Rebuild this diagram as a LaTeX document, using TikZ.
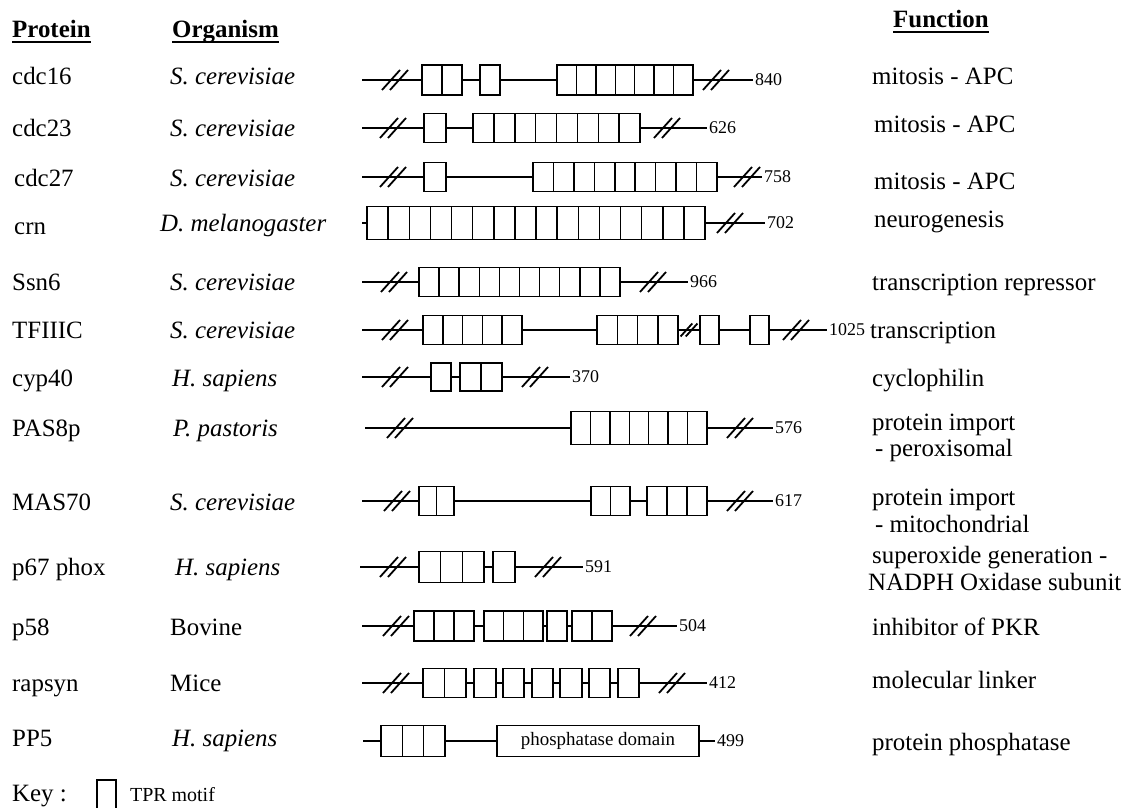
\documentclass[tikz,border=0pt]{standalone}
\usepackage{fontspec}
\setmainfont{Liberation Serif}

% a group of #5 adjacent TPR cells between x=#2 and x=#3, centred on y=#4, half height #6
\newcommand\tprgroup[6]{%
  \node[tpr, minimum width={(#3-#2)*1bp}, minimum height={2*#6*1bp}] (#1) at ({(#2+#3)/2},#4) {};
  \pgfmathtruncatemacro\tprlast{#5-1}%
  \ifnum\tprlast>0
    \foreach \k in {1,...,\tprlast}{%
      \draw[tpr line] ({#2+\k*(#3-#2)/#5},{#4-#6}) -- ({#2+\k*(#3-#2)/#5},{#4+#6});
    }%
  \fi
}
% the protein backbone with its length written after the end
\newcommand\tprspine[5]{%
  \coordinate (#1-s) at (#2,#4);
  \coordinate (#1-e) at (#3,#4);
  \draw[chain] (#1-s) -- (#1-e);
  \node[num] (#1-len) at ([xshift=2bp]#1-e) {#5};
}
% a "//" break mark centred at (#2,#3), optional scale #1
\newcommand\tprbreak[3][1]{%
  \draw[brkline] ({#2-13*#1},{#3+10*#1}) -- ({#2+5*#1},{#3-10*#1})
                 ({#2-5*#1},{#3+10*#1}) -- ({#2+13*#1},{#3-10*#1});
}

\begin{document}
\begin{tikzpicture}[x=1bp,y=-1bp,
  txt/.style={anchor=base west, inner sep=0pt, font=\fontsize{25}{28}\selectfont},
  org/.style={txt, font=\fontsize{25}{28}\selectfont\itshape},
  hdr/.style={txt, font=\fontsize{25}{28}\selectfont\bfseries},
  num/.style={anchor=west, inner sep=0pt, font=\fontsize{18}{20}\selectfont},
  tpr/.style={draw, fill=white, line width=1.5bp, inner sep=0pt, outer sep=0pt, rectangle},
  tpr line/.style={line width=1.5bp},
  chain/.style={line width=1.5bp},
  brkline/.style={line width=1.8bp},
  uline/.style={line width=1.5bp}]
\useasboundingbox (0,0) rectangle (1129,808);

% column headings
\node[hdr] (hProt) at (12,38) {Protein};
\node[hdr] (hOrg) at (172,38) {Organism};
\node[hdr] (hFun) at (893,28) {Function};
\foreach \h in {hProt,hOrg,hFun}
  \draw[uline] ([yshift=-4bp]\h.base west) -- ([yshift=-4bp]\h.base east);

% protein names
\node[txt] (p1) at (12,85) {cdc16};
\node[txt] (p2) at (12,136) {cdc23};
\node[txt] (p3) at (14,186) {cdc27};
\node[txt] (p4) at (14,234) {crn};
\node[txt] (p5) at (12,290) {Ssn6};
\node[txt] (p6) at (12,338) {TFIIIC};
\node[txt] (p7) at (12,386) {cyp40};
\node[txt] (p8) at (12,436) {PAS8p};
\node[txt] (p9) at (12,510) {MAS70};
\node[txt] (p10) at (12,575) {p67 phox};
\node[txt] (p11) at (12,635) {p58};
\node[txt] (p12) at (12,691) {rapsyn};
\node[txt] (p13) at (12,746) {PP5};

% organisms
\node[org] (o1) at (170,85) {S. cerevisiae};
\node[org] (o2) at (170,136) {S. cerevisiae};
\node[org] (o3) at (170,186) {S. cerevisiae};
\node[org] (o4) at (160,231) {D. melanogaster};
\node[org] (o5) at (170,290) {S. cerevisiae};
\node[org] (o6) at (170,338) {S. cerevisiae};
\node[org] (o7) at (172,386) {H. sapiens};
\node[org] (o8) at (173,436) {P. pastoris};
\node[org] (o9) at (170,510) {S. cerevisiae};
\node[org] (o10) at (175,575) {H. sapiens};
\node[txt] (o11) at (170,635) {Bovine};
\node[txt] (o12) at (170,691) {Mice};
\node[org] (o13) at (172,746) {H. sapiens};

% functions
\node[txt] (f1) at (872,85) {mitosis - APC};
\node[txt] (f2) at (874,132) {mitosis - APC};
\node[txt] (f3) at (874,189) {mitosis - APC};
\node[txt] (f4) at (874,227) {neurogenesis};
\node[txt] (f5) at (872,290) {transcription repressor};
\node[txt] (f6) at (870,338) {transcription};
\node[txt] (f7) at (872,386) {cyclophilin};
\node[txt] (f8a) at (872,430) {protein import};
\node[txt] (f8b) at (875,456) {- peroxisomal};
\node[txt] (f9a) at (872,505) {protein import};
\node[txt] (f9b) at (875,532) {- mitochondrial};
\node[txt] (f10a) at (872,563) {superoxide generation -};
\node[txt] (f10b) at (868,590) {NADPH Oxidase subunit};
\node[txt] (f11) at (872,635) {inhibitor of PKR};
\node[txt] (f12) at (872,688) {molecular linker};
\node[txt] (f13) at (872,750) {protein phosphatase};

% cdc16
\tprspine{r1}{362}{753}{80}{840}
\tprgroup{r1a}{422}{462}{80}{2}{15}
\tprgroup{r1b}{480}{500}{80}{1}{15}
\tprgroup{r1c}{557}{693}{80}{7}{15}
\tprbreak{395}{80}\tprbreak{716}{80}

% cdc23
\tprspine{r2}{362}{707}{128}{626}
\tprgroup{r2a}{424}{446}{128}{1}{14.5}
\tprgroup{r2b}{473}{640}{128}{8}{14.5}
\tprbreak{393}{128}\tprbreak{667}{128}

% cdc27
\tprspine{r3}{362}{762}{177}{758}
\tprgroup{r3a}{424}{446}{177}{1}{14.5}
\tprgroup{r3b}{533}{717}{177}{9}{14.5}
\tprbreak{393}{177}\tprbreak{747}{177}

% crn
\tprspine{r4}{362}{765}{223}{702}
\tprgroup{r4a}{367}{705}{223}{16}{16.5}
\tprbreak{730}{223}

% Ssn6
\tprspine{r5}{362}{688}{282}{966}
\tprgroup{r5a}{419}{620}{282}{10}{14.5}
\tprbreak{394}{282}\tprbreak{653}{282}

% TFIIIC
\tprspine{r6}{362}{827}{330}{1025}
\tprgroup{r6a}{423}{522}{330}{5}{14.5}
\tprgroup{r6b}{597}{678}{330}{4}{14.5}
\tprgroup{r6c}{700}{719}{330}{1}{14.5}
\tprgroup{r6d}{750}{769}{330}{1}{14.5}
\tprbreak{395}{330}\tprbreak[0.65]{689}{330}\tprbreak{796}{330}

% cyp40
\tprspine{r7}{362}{570}{377}{370}
\tprgroup{r7a}{431}{451}{377}{1}{14}
\tprgroup{r7b}{460}{502}{377}{2}{14}
\tprbreak{395}{377}\tprbreak{535}{377}

% PAS8p
\tprspine{r8}{365}{773}{428}{576}
\tprgroup{r8a}{571}{707}{428}{7}{16.5}
\tprbreak{400}{428}\tprbreak{740}{428}

% MAS70
\tprspine{r9}{362}{773}{501}{617}
\tprgroup{r9a}{419}{454}{501}{2}{14.5}
\tprgroup{r9b}{591}{630}{501}{2}{14.5}
\tprgroup{r9c}{647}{707}{501}{3}{14.5}
\tprbreak{397}{501}\tprbreak{740}{501}

% p67 phox
\tprspine{r10}{360}{583}{567}{591}
\tprgroup{r10a}{419}{484}{567}{3}{15.5}
\tprgroup{r10b}{493}{515}{567}{1}{15.5}
\tprbreak{393}{567}\tprbreak{548}{567}

% p58
\tprspine{r11}{362}{677}{626}{504}
\tprgroup{r11a}{414}{474}{626}{3}{15}
\tprgroup{r11b}{484}{543}{626}{3}{15}
\tprgroup{r11c}{547}{567}{626}{1}{15}
\tprgroup{r11d}{572}{612}{626}{2}{15}
\tprbreak{396}{626}\tprbreak{643}{626}

% rapsyn
\tprspine{r12}{362}{707}{683}{412}
\tprgroup{r12a}{423}{466}{683}{2}{14.5}
\tprgroup{r12b}{474}{496}{683}{1}{14.5}
\tprgroup{r12c}{503}{524}{683}{1}{14.5}
\tprgroup{r12d}{532}{553}{683}{1}{14.5}
\tprgroup{r12e}{560}{582}{683}{1}{14.5}
\tprgroup{r12f}{589}{610}{683}{1}{14.5}
\tprgroup{r12g}{618}{639}{683}{1}{14.5}
\tprbreak{396}{683}\tprbreak{672}{683}

% PP5
\tprspine{r13}{363}{715}{741}{499}
\tprgroup{r13a}{381}{445}{741}{3}{15.5}
\node[tpr, minimum width=202bp, minimum height=31bp, font=\fontsize{19}{21}\selectfont]
  (r13dom) at (598,741) {phosphatase domain};

% key
\node[txt] (key) at (12,801) {Key :};
\draw[tpr line] (97,809) -- (97,780) -- (116,780) -- (116,809);
\node[txt, font=\fontsize{20}{22}\selectfont] (keytxt) at (130,801) {TPR motif};
\end{tikzpicture}
\end{document}
